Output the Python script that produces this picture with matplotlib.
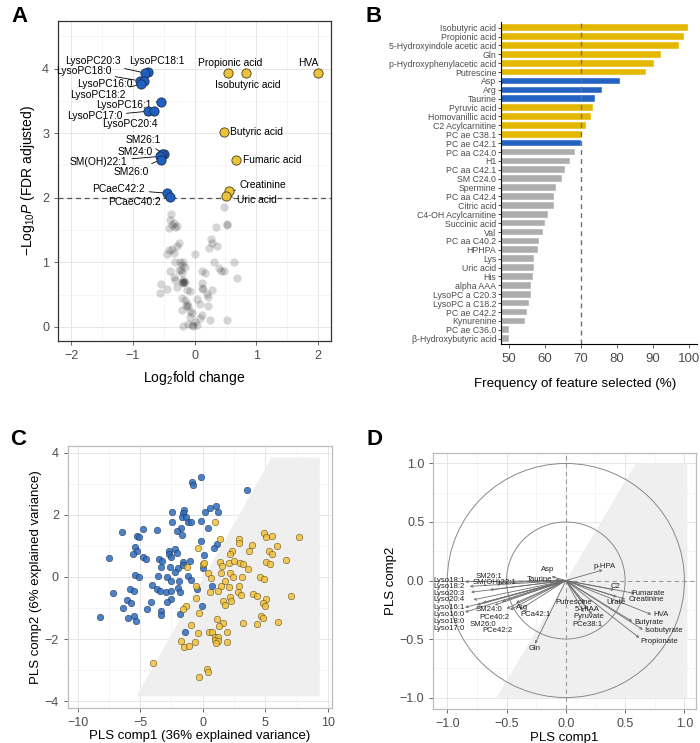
import numpy as np
import matplotlib
matplotlib.use("Agg")
import matplotlib.pyplot as plt
from matplotlib.patches import Polygon, Circle

plt.rcParams['font.family'] = ['Liberation Sans', 'DejaVu Sans']
plt.rcParams['mathtext.fontset'] = 'custom'
plt.rcParams['mathtext.rm'] = 'Liberation Sans'
plt.rcParams['mathtext.it'] = 'Liberation Sans:italic'

BAR_GOLD = "#E5B800"
BAR_BLUE = "#2563C3"
BAR_GRAY = "#ADADAD"
TICK = "#4D4D4D"

# ---------------- panel A: volcano ----------------
sig_names = ["LysoPC18:1", "LysoPC20:3", "LysoPC18:0", "LysoPC16:0", "LysoPC18:2",
             "LysoPC16:1", "LysoPC17:0", "LysoPC20:4", "SM26:1", "SM24:0",
             "SM(OH)22:1", "SM26:0", "PCaeC42:2", "PCaeC40:2",
             "Propionic acid", "Isobutyric acid", "HVA", "Butyric acid",
             "Fumaric acid", "Creatinine", "Uric acid"]
sig_lfc = [-0.75, -0.80, -0.89, -0.82, -0.86, -0.54, -0.75, -0.65, -0.49, -0.53,
           -0.56, -0.54, -0.45, -0.40, 0.54, 0.83, 1.99, 0.48, 0.67, 0.56, 0.51]
sig_p = [3.95, 3.93, 3.81, 3.81, 3.76, 3.49, 3.34, 3.34, 2.67, 2.67,
         2.64, 2.59, 2.07, 2.01, 3.93, 3.93, 3.93, 3.02, 2.59, 2.10, 2.02]
sig_up = [False] * 14 + [True] * 7

ns_lfc = [-0.38, -0.40, -0.37, -0.41, -0.32, -0.29, 0.48, 0.52, 0.35, 0.27, 0.28, 0.24,
          0.36, -0.26, -0.29, -0.37, -0.42, -0.33, -0.45, 0.01, -0.32, -0.24, -0.18,
          -0.21, 0.31, 0.64, 0.39, 0.42, 0.47, 0.12, 0.17, -0.40, -0.26, -0.21, -0.34,
          -0.32, -0.18, -0.15, -0.19, 0.69, -0.54, -0.45, -0.56, -0.29, 0.12, 0.12, 0.14,
          0.28, 0.22, 0.20, -0.13, -0.07, -0.21, -0.15, -0.13, -0.10, -0.14, 0.04, 0.08,
          0.22, -0.21, -0.07, -0.05, 0.12, 0.09, 0.25, 0.52, -0.19, -0.05, -0.02, 0.04,
          -0.07, 0.01, -0.20, -0.19, -0.17, -0.10, -0.22, -0.16, 0.53, -0.34]
ns_p = [1.75, 1.65, 1.58, 1.53, 1.55, 1.56, 1.86, 1.58, 1.55, 1.36, 1.30, 1.22,
        1.25, 1.30, 1.25, 1.20, 1.19, 1.14, 1.13, 1.13, 1.01, 1.01, 1.00,
        0.96, 1.01, 1.00, 0.91, 0.87, 0.86, 0.86, 0.83, 0.86, 0.88, 0.83, 0.77,
        0.73, 0.70, 0.69, 0.68, 0.75, 0.67, 0.58, 0.52, 0.62, 0.68, 0.60, 0.58,
        0.57, 0.46, 0.51, 0.57, 0.55, 0.44, 0.42, 0.36, 0.33, 0.32, 0.43, 0.36,
        0.33, 0.26, 0.24, 0.21, 0.19, 0.13, 0.11, 0.10, 0.02, 0.03, 0.01, 0.03,
        0.16, 0.08, 0.70, 0.72, 0.69, 0.05, 0.88, 0.92, 1.60, 1.61]

# label text positions (data coords) and alignment
sig_lab_xy = [(-0.61, 4.11), (-1.65, 4.11), (-1.80, 3.96), (-1.45, 3.76), (-1.56, 3.59),
              (-1.14, 3.44), (-1.62, 3.26), (-1.05, 3.14), (-0.84, 2.89), (-0.96, 2.71),
              (-1.55, 2.56), (-1.02, 2.40), (-1.23, 2.13), (-0.97, 1.94),
              (0.57, 4.09), (0.86, 3.75), (1.84, 4.09), (0.575, 3.02), (0.79, 2.59),
              (0.73, 2.19), (0.68, 1.97)]
sig_lab_ha = ["center"] * 17 + ["left"] * 4

# ---------------- panel B: selection frequency ----------------
feat_names = ["Isobutyric acid", "Propionic acid", "5-Hydroxyindole acetic acid", "Gln",
              "p-Hydroxyphenylacetic acid", "Putrescine", "Asp", "Arg", "Taurine",
              "Pyruvic acid", "Homovanillic acid", "C2 Acylcarnitine", "PC ae C38.1",
              "PC ae C42.1", "PC aa C24.0", "H1", "PC aa C42.1", "SM C24.0", "Spermine",
              "PC aa C42.4", "Citric acid", "C4-OH Acylcarnitine", "Succinic acid", "Val",
              "PC aa C40.2", "HPHPA", "Lys", "Uric acid", "His", "alpha AAA",
              "LysoPC a C20.3", "LysoPC a C18.2", "PC ae C42.2", "Kynurenine",
              "PC ae C36.0", "β-Hydroxybutyric acid"]
feat_freq = [99.7, 98.7, 97.2, 92.2, 90.3, 88.2, 80.8, 75.9, 73.9, 73.4, 72.9, 71.4,
             70.5, 70.0, 68.5, 66.9, 65.5, 64.9, 63.0, 62.5, 62.5, 61.0, 60.0, 59.5,
             58.5, 58.0, 57.0, 57.0, 56.6, 56.1, 56.1, 55.6, 55.1, 54.6, 50.1, 50.1]
feat_group = ["up"] * 6 + ["down"] * 3 + ["up"] * 4 + ["down"] + ["ns"] * 22

# ---------------- panel C: PLS scores ----------------
low_x = [-0.16, -0.86, -0.78, -2.42, -1.49, -1.57, -1.63, -1.36, -2.45, -1.18, -0.91,
         -0.11, 0.14, -1.71, -2.05, -1.63, -6.49, -4.77, -3.68, -5.24, -5.09, -0.16,
         -5.38, -5.27, -5.54, -7.51, -4.77, -4.50, -2.69, -2.72, -2.24, -2.05, -2.56,
         -3.49, -3.25, -1.57, -1.04, -1.97, -1.60, -2.61, -3.36, -2.24, -1.18, -0.91,
         -2.82, -3.57, -5.38, -5.09, -1.89, -2.56, -4.05, -3.67, -3.44, -2.96, -2.51,
         -1.97, -1.79, -5.83, -5.51, -7.13, -6.02, -5.75, -6.36, -4.15, -4.42, -2.56,
         -2.82, -3.33, -3.33, -8.20, -5.96, -5.48, -5.30, -1.79, -1.39, -0.06, 3.54,
         0.58, 1.09, 1.25, 0.42, 1.12, 0.90, 0.08, 0.02, 0.77, -0.45]
low_y = [3.21, 3.07, 2.96, 2.08, 2.16, 2.05, 1.92, 1.94, 1.78, 1.78, 1.78,
         1.80, 2.08, 1.59, 1.48, 1.36, 1.46, 1.54, 1.50, 1.32, 1.28, 1.17,
         0.97, 0.83, 0.73, 0.61, 0.63, 0.57, 0.82, 0.73, 0.90, 0.76, 0.65,
         0.58, 0.51, 0.48, 0.50, 0.30, 0.38, 0.31, 0.31, 0.15, 0.03, -0.10,
         -0.01, 0.03, 0.07, 0.01, -0.13, -0.12, -0.25, -0.40, -0.44, -0.49, -0.44,
         -0.34, -0.47, -0.40, -0.45, -0.51, -0.74, -0.83, -1.00, -0.81, -1.03, -0.72,
         -0.81, -1.09, -1.22, -1.28, -1.32, -1.26, -1.42, -1.20, -1.76, -0.93, 2.80,
         2.22, 2.27, 2.08, 1.57, 1.05, 0.94, 0.70, 0.28, -0.30, -0.38]
high_x = [-0.38, -1.23, 0.00, -0.51, -0.51, -1.36, -1.55, -0.30, -0.91, -0.35, -1.71,
          -1.52, -1.07, -0.62, 0.96, 1.38, 0.42, 0.69, 4.87, 5.03, 5.50, 2.87, 2.87,
          3.96, 7.71, 5.90, 2.34, 2.15, 3.70, 5.26, 5.56, 6.67, 1.35, 1.57, 2.07, 2.50,
          2.95, 3.24, 3.62, 5.08, 5.34, 1.43, 2.18, 2.42, 3.11, 4.57, 4.89, 1.78, 1.49,
          2.13, 2.90, 1.22, 0.58, 2.82, 3.03, 4.04, 4.31, 7.02, 2.15, 2.29, 1.62, 1.81,
          5.08, 4.81, 4.95, 4.63, 4.81, 3.22, 4.31, 6.04, 1.17, 1.62, 1.27, 0.50, 0.77,
          1.97, 1.01, 1.22, 0.96, 1.22, 1.09, 1.97, 0.37, 0.42, -0.29, -3.96, 0.10]
high_y = [0.94, 0.31, 0.42, -0.28, -0.69, -0.92, -1.02, -1.17, -1.54, -1.79, -2.06,
          -2.26, -2.21, -2.09, 1.77, 1.21, 0.14, -0.02, 1.43, 1.29, 1.32, 1.22, 1.10,
          1.03, 1.28, 1.00, 0.82, 0.74, 0.84, 0.85, 0.74, 0.53, 0.49, 0.35, 0.44, 0.50,
          0.46, 0.42, 0.25, 0.48, 0.42, 0.14, 0.12, -0.01, -0.01, 0.00, -0.07, -0.12, -0.29,
          -0.31, -0.29, -0.44, -0.49, -0.50, -0.58, -0.55, -0.61, -0.60, -0.65, -0.76, -0.76, -0.90,
          -0.72, -0.83, -0.95, -1.25, -1.31, -1.49, -1.53, -1.45, -1.34, -1.47, -1.57, -1.77, -1.77,
          -1.77, -1.92, -1.92, -2.04, -2.06, -2.13, -2.08, -2.96, -3.07, -3.21, -2.78, 0.45]

# ---------------- panel D: loadings ----------------
var_names = ["Lyso18:1", "Lyso18:2", "Lyso20:3", "Lyso20:4", "Lyso16:1", "Lyso16:0",
             "Lyso18:0", "Lyso17:0", "SM26:1", "SM(OH)22:1", "SM24:0", "PCe40:2",
             "SM26:0", "PCe42:2", "Arg", "PCa42:1", "Gln", "Asp", "Taurine", "p-HPA",
             "C2", "Fumarate", "Creatinine", "Urate", "HVA", "Butyrate", "Isobutyrate",
             "Propionate", "Putrescine", "5-HIAA", "Pyruvate", "PCe38:1"]
var_c1 = [-0.85, -0.81, -0.80, -0.78, -0.85, -0.85, -0.75, -0.70, -0.58, -0.64,
          -0.60, -0.50, -0.54, -0.47, -0.42, -0.39, -0.26, -0.12, -0.09, 0.31,
          0.41, 0.58, 0.50, 0.43, 0.72, 0.56, 0.65, 0.62, 0.16, 0.18, 0.22, 0.15]
var_c2 = [-0.01, -0.05, -0.10, -0.165, -0.23, -0.27, -0.21, -0.19, -0.02, -0.08,
          -0.21, -0.24, -0.18, -0.25, -0.19, -0.25, -0.54, 0.034, 0.01, 0.09,
          -0.08, -0.11, -0.16, -0.14, -0.29, -0.35, -0.42, -0.49, -0.19, -0.245, -0.29, -0.27]
var_lab_xy = [(-0.985, 0.0), (-0.985, -0.05), (-0.985, -0.11), (-0.985, -0.165),
              (-0.985, -0.23), (-0.985, -0.29), (-0.985, -0.35), (-0.985, -0.41),
              (-0.646, 0.034), (-0.60, -0.02), (-0.646, -0.25), (-0.60, -0.32),
              (-0.70, -0.38), (-0.58, -0.43), (-0.37, -0.23), (-0.26, -0.29),
              (-0.26, -0.58), (-0.15, 0.09), (-0.22, 0.006), (0.33, 0.12),
              (0.42, -0.05), (0.69, -0.11), (0.68, -0.165), (0.42, -0.19),
              (0.80, -0.29), (0.70, -0.36), (0.82, -0.43), (0.79, -0.52),
              (0.07, -0.19), (0.18, -0.25), (0.19, -0.31), (0.18, -0.38)]


def bw_axes(ax, edge):
    for s in ax.spines.values():
        s.set_color(edge)
        s.set_linewidth(0.9)
    ax.set_axisbelow(True)
    ax.grid(True, which="major", color="#E6E6E6", lw=0.7)
    ax.grid(True, which="minor", color="#F2F2F2", lw=0.5)
    ax.tick_params(which="major", colors=TICK, labelsize=9, length=3, width=0.6)
    ax.tick_params(which="minor", length=0)


fig = plt.figure(figsize=(7, 7.43), dpi=100)

# A
axA = fig.add_axes([0.083, 0.541, 0.390, 0.431])
axA.set_xlim(-2.21, 2.21)
axA.set_ylim(-0.22, 4.74)
axA.set_xticks([-2, -1, 0, 1, 2])
axA.set_yticks([0, 1, 2, 3, 4])
axA.set_xticks(np.arange(-1.5, 2, 1), minor=True)
axA.set_yticks(np.arange(0.5, 4.6, 1), minor=True)
bw_axes(axA, "#333333")
axA.scatter(ns_lfc, ns_p, s=36, color="black", alpha=0.16, lw=0, zorder=2)
axA.axhline(2, color="#555555", ls=(0, (4, 3)), lw=0.9, zorder=3)
for name, x, y, up, (tx, ty), ha in zip(sig_names, sig_lfc, sig_p, sig_up, sig_lab_xy, sig_lab_ha):
    axA.annotate(name, xy=(x, y), xytext=(tx, ty), ha=ha, va="center", fontsize=7.4,
                 arrowprops=dict(arrowstyle="-", color="black", lw=0.6, shrinkA=1, shrinkB=3),
                 zorder=5)
axA.scatter([x for x, u in zip(sig_lfc, sig_up) if not u], [y for y, u in zip(sig_p, sig_up) if not u],
            s=44, color="#1F5FC0", edgecolor="#1A2E50", lw=0.6, zorder=6)
axA.scatter([x for x, u in zip(sig_lfc, sig_up) if u], [y for y, u in zip(sig_p, sig_up) if u],
            s=44, color="#E9C33A", edgecolor="#4A3E10", lw=0.6, zorder=6)
axA.set_xlabel("Log$_2$fold change", fontsize=10, labelpad=5)
axA.set_ylabel("\u2212Log$_{10}$$P$ (FDR adjusted)", fontsize=10, labelpad=4)

# B
axB = fig.add_axes([0.715, 0.537, 0.280, 0.433])
ypos = np.arange(len(feat_names))[::-1]
col_map = {"up": BAR_GOLD, "down": BAR_BLUE, "ns": BAR_GRAY}
axB.barh(ypos, feat_freq, height=0.75, color=[col_map[g] for g in feat_group],
         edgecolor="white", lw=0.3)
axB.axvline(70, color="#707070", ls=(0, (3.5, 3)), lw=1.0)
axB.set_xlim(47.7, 102.2)
axB.set_ylim(-0.6, len(feat_names) - 0.4)
axB.set_yticks(ypos)
axB.set_yticklabels(feat_names, fontsize=6.3, color=TICK)
axB.set_xticks([50, 60, 70, 80, 90, 100])
axB.tick_params(axis="x", labelsize=9.5, colors=TICK, length=3, width=0.6)
axB.tick_params(axis="y", length=2, width=0.5, pad=1)
for s in ["top", "right"]:
    axB.spines[s].set_visible(False)
axB.spines["left"].set_color("black")
axB.spines["bottom"].set_color("black")
fig.text(575 / 700, 1 - 384 / 743, "Frequency of feature selected (%)", fontsize=9.6,
         ha="center", va="center")

# C
axC = fig.add_axes([0.097, 0.047, 0.377, 0.353])
axC.set_xlim(-10.77, 10.3)
axC.set_ylim(-4.22, 4.22)
axC.set_xticks([-10, -5, 0, 5, 10])
axC.set_yticks([-4, -2, 0, 2, 4])
axC.set_xticks([-7.5, -2.5, 2.5, 7.5], minor=True)
axC.set_yticks([-3, -1, 1, 3], minor=True)
bw_axes(axC, "#BDBDBD")
axC.add_patch(Polygon([(-5.29, -3.84), (5.48, 3.84), (9.34, 3.84), (9.34, -3.84)],
                      closed=True, color="#EFEFEF", lw=0, zorder=1))
axC.scatter(low_x, low_y, s=22, color="#2E6CC0", edgecolor="#1C2E4A", lw=0.4, alpha=0.85, zorder=3)
axC.scatter(high_x, high_y, s=22, color="#F2C13A", edgecolor="#4D3F12", lw=0.4, alpha=0.85, zorder=3)
axC.set_xlabel("PLS comp1 (36% explained variance)", fontsize=9.5, labelpad=1)
axC.set_ylabel("PLS comp2 (6% explained variance)", fontsize=9.5, labelpad=2)

# D
axD = fig.add_axes([0.619, 0.0454, 0.375, 0.345])
axD.set_xlim(-1.118, 1.096)
axD.set_ylim(-1.10, 1.09)
axD.set_xticks([-1, -0.5, 0, 0.5, 1])
axD.set_yticks([-1, -0.5, 0, 0.5, 1])
axD.set_xticks([-0.75, -0.25, 0.25, 0.75], minor=True)
axD.set_yticks([-0.75, -0.25, 0.25, 0.75], minor=True)
bw_axes(axD, "#BDBDBD")
axD.add_patch(Polygon([(-0.584, -1.0), (0.59, 1.0), (1.025, 1.0), (1.025, -1.0)],
                      closed=True, color="#EFEFEF", lw=0, zorder=1))
for r in [0.5, 1.0]:
    axD.add_patch(Circle((0, 0), r, fill=False, ec="#8A8A8A", lw=0.7, zorder=2))
axD.axhline(0, color="#9A9A9A", ls=(0, (4, 3)), lw=0.8, zorder=2)
axD.axvline(0, color="#9A9A9A", ls=(0, (4, 3)), lw=0.8, zorder=2)
for name, c1, c2, (tx, ty) in zip(var_names, var_c1, var_c2, var_lab_xy):
    axD.annotate("", xy=(c1, c2), xytext=(0, 0),
                 arrowprops=dict(arrowstyle="->", color="#6E6E6E", lw=0.6,
                                 shrinkA=0, shrinkB=0, mutation_scale=4), zorder=3)
    axD.text(tx, ty, name, fontsize=5.6, color="#222222", ha="center", va="center", zorder=4)
axD.set_xlabel("PLS comp1", fontsize=9.5, labelpad=1)
axD.set_ylabel("PLS comp2", fontsize=9.5, labelpad=2)

# panel letters
for lab, x, y in [("A", 0.016, 0.978), ("B", 0.522, 0.978), ("C", 0.014, 0.408), ("D", 0.524, 0.408)]:
    fig.text(x, y, lab, fontsize=16, fontweight="bold", ha="left", va="center")

fig.savefig("out.png", dpi=100)
